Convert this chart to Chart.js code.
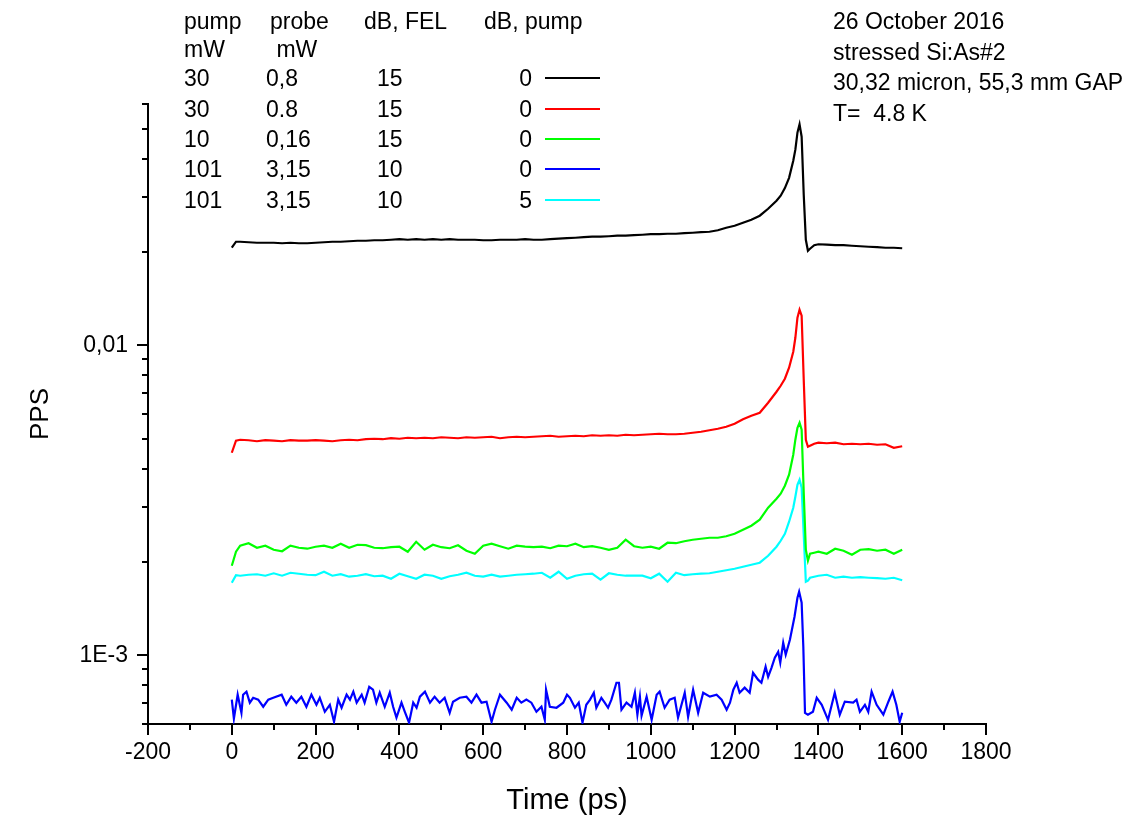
<!DOCTYPE html>
<html>
<head>
<meta charset="utf-8">
<script src="https://cdn.jsdelivr.net/npm/chart.js@4.4.1/dist/chart.umd.min.js"></script>
<style>
  html, body { margin: 0; padding: 0; background: #fff; }
  #wrap { position: relative; width: 1145px; height: 819px; overflow: hidden;
          font-family: "Liberation Sans", Arial, sans-serif; color: #000; }
  #chart { position: absolute; left: 0; top: 0; }
  .txt { position: absolute; font-size: 23px; line-height: 30px; white-space: pre; }
  .swatch { position: absolute; height: 2px; width: 55px; }
</style>
</head>
<body>
<div id="wrap">
  <canvas id="chart" width="1145" height="819"></canvas>
</div>
<script>
// time axis (ps), shared by the smoother traces
const times = [
  0, 10, 20, 40, 60, 80, 100, 120, 140, 160,
  180, 200, 220, 240, 260, 280, 300, 320, 340, 360,
  380, 400, 420, 440, 460, 480, 500, 520, 540, 560,
  580, 600, 620, 640, 660, 680, 700, 720, 740, 760,
  780, 800, 820, 840, 860, 880, 900, 920, 940, 960,
  980, 1000, 1020, 1040, 1060, 1080, 1100, 1120, 1140, 1160,
  1180, 1200, 1220, 1240, 1260, 1280, 1300, 1310, 1320, 1330,
  1340, 1345, 1350, 1355, 1360, 1365, 1370, 1375, 1380, 1390,
  1400, 1420, 1440, 1460, 1480, 1500, 1520, 1540, 1560, 1580,
  1600
];

// PPS, 30 mW pump / 0,8 mW probe
const ppsBlack = [
  0.02063, 0.02157, 0.02157, 0.02149, 0.02141, 0.02141, 0.02141, 0.02133, 0.02141, 0.02133,
  0.02133, 0.02141, 0.02149, 0.02157, 0.02157, 0.02165, 0.02173, 0.02173, 0.02181, 0.02181,
  0.02189, 0.02198, 0.02189, 0.02198, 0.02189, 0.02198, 0.02189, 0.02198, 0.02189, 0.02189,
  0.02189, 0.02181, 0.02181, 0.02189, 0.02189, 0.02189, 0.02198, 0.02189, 0.02189, 0.02198,
  0.02206, 0.02214, 0.02222, 0.02231, 0.02239, 0.02239, 0.02247, 0.02256, 0.02256, 0.02264,
  0.02272, 0.02281, 0.02281, 0.02289, 0.02289, 0.02298, 0.02306, 0.02315, 0.02323, 0.02349,
  0.02393, 0.02429, 0.02484, 0.02540, 0.02617, 0.02756, 0.02926, 0.03037, 0.03214, 0.03468,
  0.03936, 0.04273, 0.04852, 0.05158, 0.04706, 0.03059, 0.02189, 0.02018, 0.02048, 0.02102,
  0.02117, 0.02110, 0.02102, 0.02102, 0.02094, 0.02086, 0.02078, 0.02071, 0.02063, 0.02063,
  0.02055
];

// PPS, 30 mW pump / 0.8 mW probe
const ppsRed = [
  0.004499, 0.004920, 0.004956, 0.004938, 0.004901, 0.004938, 0.004920, 0.004901, 0.004938, 0.004920,
  0.004920, 0.004938, 0.004920, 0.004901, 0.004938, 0.004956, 0.004938, 0.004975, 0.004993, 0.004975,
  0.005012, 0.004993, 0.005030, 0.005012, 0.005030, 0.005012, 0.005048, 0.005030, 0.005012, 0.005048,
  0.005030, 0.005048, 0.005067, 0.005012, 0.005048, 0.005067, 0.005048, 0.005067, 0.005086, 0.005105,
  0.005067, 0.005086, 0.005105, 0.005086, 0.005124, 0.005105, 0.005124, 0.005105, 0.005142, 0.005124,
  0.005142, 0.005162, 0.005181, 0.005162, 0.005162, 0.005181, 0.005219, 0.005258, 0.005317, 0.005376,
  0.005457, 0.005580, 0.005770, 0.005922, 0.006056, 0.006524, 0.007079, 0.007400, 0.007795, 0.008461,
  0.009529, 0.01057, 0.01227, 0.01302, 0.01245, 0.007738, 0.004956, 0.004705, 0.004740, 0.004811,
  0.004847, 0.004829, 0.004847, 0.004793, 0.004811, 0.004793, 0.004811, 0.004775, 0.004793, 0.004670,
  0.004722
];

// PPS, 10 mW pump / 0,16 mW probe
const ppsGreen = [
  0.001944, 0.002157, 0.002256, 0.002298, 0.002222, 0.002256, 0.002189, 0.002165, 0.002256, 0.002222,
  0.002206, 0.002239, 0.002256, 0.002222, 0.002289, 0.002222, 0.002272, 0.002264, 0.002222, 0.002214,
  0.002231, 0.002239, 0.002157, 0.002323, 0.002189, 0.002272, 0.002231, 0.002214, 0.002264, 0.002173,
  0.002125, 0.002256, 0.002289, 0.002247, 0.002206, 0.002256, 0.002239, 0.002231, 0.002239, 0.002214,
  0.002256, 0.002247, 0.002289, 0.002231, 0.002247, 0.002222, 0.002189, 0.002222, 0.002358, 0.002247,
  0.002222, 0.002239, 0.002206, 0.002306, 0.002298, 0.002332, 0.002358, 0.002375, 0.002393, 0.002393,
  0.002420, 0.002465, 0.002540, 0.002617, 0.002736, 0.002991, 0.003198, 0.003319, 0.003522, 0.003823,
  0.004435, 0.004957, 0.005418, 0.005623, 0.005338, 0.003344, 0.002189, 0.002018, 0.002125, 0.002141,
  0.002157, 0.002125, 0.002206, 0.002173, 0.002110, 0.002189, 0.002198, 0.002173, 0.002189, 0.002125,
  0.002189
];

// PPS, 101 mW pump / 3,15 mW probe, 5 dB pump
const ppsCyan = [
  0.001713, 0.001812, 0.001805, 0.001818, 0.001825, 0.001805, 0.001838, 0.001805, 0.001845, 0.001832,
  0.001818, 0.001812, 0.001859, 0.001805, 0.001825, 0.001792, 0.001805, 0.001825, 0.001798, 0.001805,
  0.001765, 0.001832, 0.001798, 0.001765, 0.001818, 0.001805, 0.001765, 0.001798, 0.001818, 0.001845,
  0.001805, 0.001792, 0.001818, 0.001792, 0.001805, 0.001818, 0.001825, 0.001832, 0.001845, 0.001778,
  0.001859, 0.001765, 0.001805, 0.001825, 0.001832, 0.001752, 0.001838, 0.001818, 0.001805, 0.001805,
  0.001805, 0.001772, 0.001832, 0.001726, 0.001845, 0.001812, 0.001825, 0.001832, 0.001838, 0.001859,
  0.001880, 0.001901, 0.001929, 0.001958, 0.001988, 0.002094, 0.002239, 0.002340, 0.002465, 0.002696,
  0.002991, 0.003246, 0.003548, 0.003683, 0.003470, 0.002447, 0.001726, 0.001739, 0.001778, 0.001792,
  0.001805, 0.001818, 0.001778, 0.001792, 0.001778, 0.001785, 0.001778, 0.001772, 0.001765, 0.001778,
  0.001746
];

// the noisy blue trace is read at its own, denser times (ps)
const blueTimes = [
  0, 5, 14, 23, 27, 35, 43, 51, 63, 75, 87, 99, 119, 130, 142, 154, 166, 178, 190, 202,
  210, 222, 234, 244, 254, 262, 274, 282, 290, 298, 310, 317, 328, 337, 345, 353, 365, 377, 385, 393,
  405, 413, 423, 433, 441, 449, 461, 473, 484, 496, 508, 520, 528, 544, 560, 572, 584, 596, 608, 620,
  628, 640, 656, 668, 680, 691, 703, 715, 727, 739, 747, 750, 759, 775, 791, 800, 807, 819, 828, 837,
  846, 855, 864, 870, 882, 890, 898, 906, 918, 924, 930, 942, 954, 962, 968, 974, 978, 990, 1002, 1014,
  1021, 1033, 1045, 1057, 1065, 1081, 1089, 1101, 1113, 1125, 1141, 1157, 1169, 1181, 1189, 1197, 1205, 1212, 1224, 1236,
  1244, 1256, 1264, 1274, 1280, 1288, 1296, 1304, 1309, 1316, 1322, 1332, 1343, 1350, 1354, 1360, 1364, 1368, 1375, 1387,
  1396, 1408, 1423, 1439, 1451, 1463, 1483, 1491, 1499, 1511, 1519, 1527, 1539, 1555, 1567, 1577, 1586, 1594, 1600
];

// PPS, 101 mW pump / 3,15 mW probe, 0 dB pump
const ppsBlue = [
  0.000719, 0.000624, 0.000746, 0.000652, 0.000746, 0.000763, 0.000703, 0.000729, 0.000719, 0.000682,
  0.000719, 0.000729, 0.000746, 0.000692, 0.000735, 0.000703, 0.000735, 0.000682, 0.000746, 0.000692,
  0.000729, 0.000657, 0.000692, 0.000610, 0.000719, 0.000677, 0.000746, 0.000719, 0.000763, 0.000703,
  0.000746, 0.000703, 0.000791, 0.000774, 0.000703, 0.000757, 0.000682, 0.000757, 0.000682, 0.000629,
  0.000703, 0.000657, 0.000606, 0.000703, 0.000677, 0.000735, 0.000763, 0.000703, 0.000735, 0.000703,
  0.000729, 0.000652, 0.000708, 0.000729, 0.000735, 0.000703, 0.000746, 0.000703, 0.000708, 0.000610,
  0.000667, 0.000746, 0.000703, 0.000667, 0.000729, 0.000703, 0.000719, 0.000703, 0.000657, 0.000682,
  0.000619, 0.000774, 0.000682, 0.000677, 0.000703, 0.000746, 0.000729, 0.000677, 0.000703, 0.000606,
  0.000692, 0.000719, 0.000757, 0.000677, 0.000729, 0.000703, 0.000677, 0.000719, 0.000815, 0.000815,
  0.000667, 0.000703, 0.000682, 0.000757, 0.000643, 0.000735, 0.000638, 0.000735, 0.000619, 0.000746,
  0.000763, 0.000677, 0.000719, 0.000729, 0.000629, 0.000757, 0.000633, 0.000774, 0.000652, 0.000757,
  0.000735, 0.000746, 0.000719, 0.000667, 0.000703, 0.000774, 0.000815, 0.000757, 0.000786, 0.000757,
  0.000878, 0.000834, 0.000815, 0.000918, 0.000852, 0.000911, 0.000982, 0.001026, 0.000946, 0.001097,
  0.001004, 0.001122, 0.001331, 0.001533, 0.001603, 0.001477, 0.001065, 0.000652, 0.000643, 0.000657,
  0.000729, 0.000692, 0.000619, 0.000757, 0.000643, 0.000708, 0.000703, 0.000719, 0.000657, 0.000692,
  0.000657, 0.000763, 0.000692, 0.000643, 0.000708, 0.000763, 0.000692, 0.000610, 0.000652
];

// legend table text
const legendHeader = ["pump", "probe", "dB, FEL", "dB, pump"];
const legendUnits = ["mW", " mW", "", ""];
const legendPump = ["30", "30", "10", "101", "101"];
const legendProbe = ["0,8", "0.8", "0,16", "3,15", "3,15"];
const legendFel = ["15", "15", "15", "10", "10"];
const legendPumpDb = ["0", "0", "0", "0", "5"];
const seriesColors = ["#000000", "#ff0000", "#00ff00", "#0000ff", "#00ffff"];

const noteLines = ["26 October 2016", "stressed Si:As#2", "30,32 micron, 55,3 mm GAP", "T=  4.8 K"];

// axis ticks
const xMajorTicks = [-200, 0, 200, 400, 600, 800, 1000, 1200, 1400, 1600, 1800];
const xMinorTicks = [-100, 100, 300, 500, 700, 900, 1100, 1300, 1500, 1700];
const yMajorTicks = [0.001, 0.01];
const yMajorLabels = ["1E-3", "0,01"];
const yMinorTicks = [0.0006, 0.0007, 0.0008, 0.0009, 0.002, 0.003, 0.004, 0.005, 0.006, 0.007,
  0.008, 0.009, 0.02, 0.03, 0.04, 0.05, 0.06];

const seriesValues = [ppsBlack, ppsRed, ppsGreen, ppsBlue, ppsCyan];
const seriesTimes = [times, times, times, blueTimes, times];

Chart.defaults.font.family = '"Liberation Sans", Arial, sans-serif';
Chart.defaults.color = "#000";

const tickMarks = {
  id: "tickMarks",
  afterDraw(chart) {
    const { ctx, scales: { x, y } } = chart;
    ctx.save();
    ctx.strokeStyle = "#000";
    ctx.lineWidth = 2;
    ctx.beginPath();
    const xt = (list, len) => list.forEach((v) => {
      const px = Math.round(x.getPixelForValue(v));
      ctx.moveTo(px, x.top);
      ctx.lineTo(px, x.top + len);
    });
    const yt = (list, len) => list.forEach((v) => {
      const py = Math.round(y.getPixelForValue(v));
      ctx.moveTo(y.right, py);
      ctx.lineTo(y.right - len, py);
    });
    xt(xMajorTicks, 11);
    xt(xMinorTicks, 6);
    yt(yMajorTicks, 11);
    yt(yMinorTicks, 6);
    ctx.stroke();
    ctx.restore();
  },
};

new Chart(document.getElementById("chart").getContext("2d"), {
  type: "line",
  data: {
    datasets: seriesValues.map((vals, i) => ({
      data: seriesTimes[i].map((t, k) => ({ x: t, y: vals[k] })),
      borderColor: seriesColors[i],
      borderWidth: 2.2,
      pointRadius: 0,
      tension: 0,
      fill: false,
    })),
  },
  options: {
    responsive: false,
    animation: false,
    devicePixelRatio: 1,
    layout: { padding: { left: 0, top: 104, right: 159, bottom: 0 } },
    plugins: { legend: { display: false }, tooltip: { enabled: false } },
    scales: {
      x: {
        type: "linear",
        min: -200,
        max: 1800,
        afterBuildTicks: (s) => { s.ticks = xMajorTicks.map((v) => ({ value: v })); },
        afterFit: (s) => { s.height = 95; },
        ticks: { font: { size: 23 }, padding: 15, maxRotation: 0, callback: (v) => String(v) },
        grid: { drawOnChartArea: false, drawTicks: false },
        border: { color: "#000", width: 2 },
        title: { display: true, text: "Time (ps)", font: { size: 29 }, padding: { top: 0, bottom: 1 } },
      },
      y: {
        type: "logarithmic",
        min: 0.0006,
        max: 0.06,
        afterBuildTicks: (s) => { s.ticks = yMajorTicks.map((v) => ({ value: v })); },
        afterFit: (s) => { s.width = 148; },
        ticks: { font: { size: 23 }, padding: 20, callback: (v) => yMajorLabels[yMajorTicks.indexOf(v)] },
        grid: { drawOnChartArea: false, drawTicks: false },
        border: { color: "#000", width: 2 },
        title: { display: true, text: "PPS", font: { size: 26 }, padding: { top: 25, bottom: 0 } },
      },
    },
  },
  plugins: [tickMarks],
});

// legend table and notes as html text
const wrap = document.getElementById("wrap");
function addText(str, left, centerY, align) {
  const d = document.createElement("div");
  d.className = "txt";
  d.textContent = str;
  d.style.top = (centerY - 15) + "px";
  if (align === "right") d.style.right = (1145 - left) + "px";
  else d.style.left = left + "px";
  wrap.appendChild(d);
}
const colX = [184, 270, 364, 484];
const headRowY = [21, 49];
legendHeader.forEach((h, i) => addText(h, colX[i], headRowY[0]));
legendUnits.forEach((h, i) => { if (h) addText(h, colX[i], headRowY[1]); });
const rowY = [78, 108.5, 139, 169, 199.5];
legendPump.forEach((v, r) => {
  addText(v, 184, rowY[r]);
  addText(legendProbe[r], 266, rowY[r]);
  addText(legendFel[r], 377, rowY[r]);
  addText(legendPumpDb[r], 532, rowY[r], "right");
  const s = document.createElement("div");
  s.className = "swatch";
  s.style.left = "545px";
  s.style.top = (rowY[r] - 1) + "px";
  s.style.background = seriesColors[r];
  wrap.appendChild(s);
});
noteLines.forEach((line, i) => addText(line, 833, 21 + i * 30.5));
</script>
</body>
</html>
